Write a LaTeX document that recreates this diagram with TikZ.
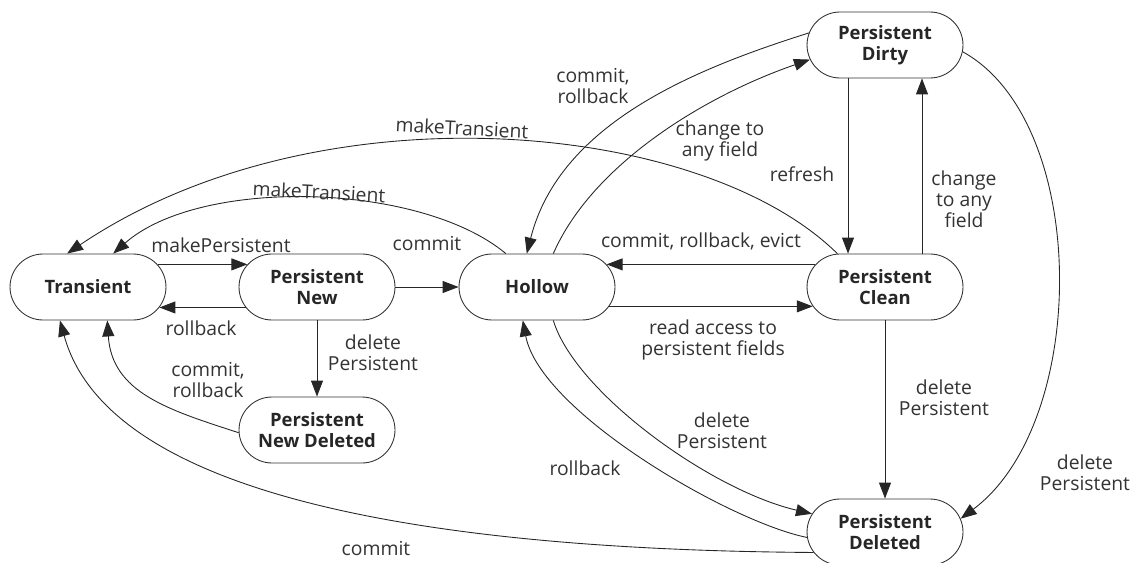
\documentclass[tikz,border=0pt]{standalone}
\usepackage{fontspec}
\setmainfont{Open Sans}
\usetikzlibrary{arrows.meta,shapes.misc}

\begin{document}
\begin{tikzpicture}[x=0.02cm,y=0.02cm,
  state/.style={rounded rectangle,draw=black!80,line width=0.5pt,minimum width=3.12cm,minimum height=1.32cm,inner sep=0pt,align=center,text=black!85,font=\fontsize{10.5}{12}\selectfont\bfseries},
  lbl/.style={align=center,inner sep=1pt,text=black!80,font=\fontsize{11}{12}\selectfont},
  trans/.style={-{Triangle[length=0.32cm,width=0.24cm]},draw=black!85,line width=0.5pt}]
\useasboundingbox (0,0) rectangle (1135,562);

\node [state] (transient) at (88,275) {Transient};
\node [state] (pnew) at (317,275) {Persistent\\New};
\node [state] (hollow) at (537,275) {Hollow};
\node [state] (pclean) at (885,275) {Persistent\\Clean};
\node [state] (pdirty) at (885,517) {Persistent\\Dirty};
\node [state] (pnewdel) at (317,132) {Persistent\\New Deleted};
\node [state] (pdel) at (885,30) {Persistent\\Deleted};

\draw [trans] (transient.18) -- (pnew.162);
\draw [trans] (pnew.196) -- (transient.-16);
\draw [trans] (pnew.east) -- (hollow.west);
\draw [trans] (pnew.south) -- (pnewdel.north);
\draw [trans] (pclean.162) -- (hollow.18);
\draw [trans] (hollow.-15) -- (pclean.195);
\draw [trans] ([xshift=-0.74cm]pdirty.south) -- ([xshift=-0.74cm]pclean.north);
\draw [trans] ([xshift=0.74cm]pclean.north) -- ([xshift=0.74cm]pdirty.south);
\draw [trans] (pclean.south) -- (pdel.north);

\draw [trans] (hollow.133) .. controls (420,380) and (200,385) .. (transient.53);
\draw [trans] (pclean.145) .. controls (701,443) and (317,477) .. (transient.122);
\draw [trans] (pnewdel.182) .. controls (169,152) and (112,169) .. (transient.-60);
\draw [trans] (pdel.196) .. controls (450,12) and (110,60) .. (transient.230);
\draw [trans] (pdirty.171) .. controls (698,494) and (560,440) .. (hollow.107);
\draw [trans] (hollow.64) .. controls (593,399) and (707,467) .. (pdirty.191);
\draw [trans] (hollow.-64) .. controls (575,170) and (710,72) .. (pdel.166);
\draw [trans] (pdel.184) .. controls (730,40) and (540,150) .. (hollow.247);
\draw [trans] (pdirty.-5) .. controls (1090,440) and (1090,140) .. (pdel.10);

\node [lbl] (lmkpers) at (221,317) {makePersistent};
\node [lbl] (lrbnew) at (201,234) {rollback};
\node [lbl] (lcmnew) at (427,318) {commit};
\node [lbl] (ldelnew) at (373,209) {delete\\Persistent};
\node [lbl] (lcrnd) at (208,182) {commit,\\rollback};
\node [lbl] (lcmdel) at (376,14) {commit};
\node [lbl,rotate=-3] (lmktrh) at (319,370) {makeTransient};
\node [lbl,rotate=-3] (lmktrc) at (462,434) {makeTransient};
\node [lbl] (lcrdirty) at (593,476) {commit,\\rollback};
\node [lbl] (lchgh) at (720,421) {change to\\any field};
\node [lbl] (lrefresh) at (802,388) {refresh};
\node [lbl] (lchgc) at (964,363) {change\\to any\\field};
\node [lbl] (lcre) at (701,321) {commit, rollback, evict};
\node [lbl] (lread) at (713,222) {read access to\\persistent fields};
\node [lbl] (ldelh) at (722,131) {delete\\Persistent};
\node [lbl] (lrbdel) at (585,94) {rollback};
\node [lbl] (ldelc) at (944,164) {delete\\Persistent};
\node [lbl] (ldeld) at (1085,89) {delete\\Persistent};
\end{tikzpicture}
\end{document}
